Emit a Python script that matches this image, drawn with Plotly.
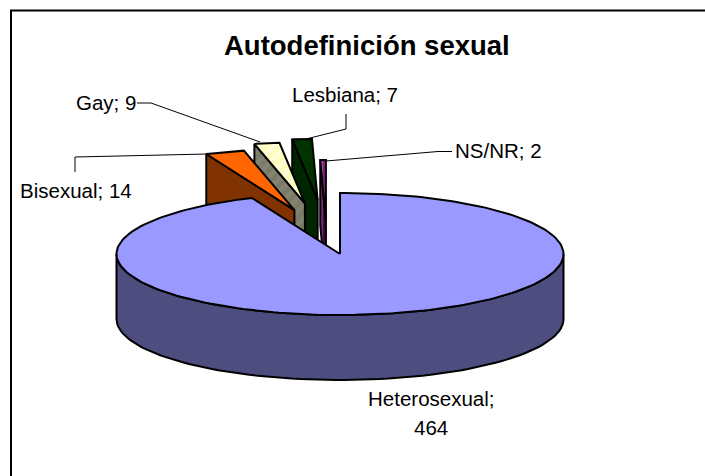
import numpy as np
import plotly.graph_objects as go

# data
categories = ["Heterosexual", "Bisexual", "Gay", "Lesbiana", "NS/NR"]
values = [464, 14, 9, 7, 2]

# pie geometry (pixels of the 705x476 canvas)
CX, CY, RX, RY, DEPTH = 340, 254, 223.5, 61, 65
# explosion of each slice, in units of the radii
EXPLODE = {"Heterosexual": (0, 0), "Bisexual": (-0.204, -0.72), "Gay": (-0.157, -0.83),
           "Lesbiana": (-0.1, -0.885), "NS/NR": (-0.063, -0.54)}

# face styles: top, side
STYLES = {
    "Heterosexual": (dict(fillcolor="#9999FF"), dict(fillcolor="#4D4D80")),
    "Bisexual": (dict(fillcolor="#FF6600"), dict(fillcolor="#803300")),
    "Gay": (dict(fillcolor="#FFFFCC", fillpattern=dict(shape="/", fgcolor="#FFFFFF", bgcolor="#FFFFBB", size=9, solidity=0.45)),
            dict(fillcolor="#808066", fillpattern=dict(shape="/", fgcolor="#8E8E80", bgcolor="#7A7A66", size=9, solidity=0.45))),
    "Lesbiana": (dict(fillcolor="#003300"), dict(fillcolor="#002600")),
    "NS/NR": (dict(fillcolor="#CC66CC", fillpattern=dict(shape="|", fgcolor="#E080E0", bgcolor="#802080", size=4, solidity=0.4)),
              dict(fillcolor="#660066", fillpattern=dict(shape="|", fgcolor="#AA77AA", bgcolor="#4D004D", size=4, solidity=0.4))),
}

total = sum(values)
fig = go.Figure()


def arc(a0, a1, dx=0.0, dy=0.0, n=80):
    t = np.radians(np.linspace(a0, a1, n))
    return CX + dx + RX * np.sin(t), CY + dy - RY * np.cos(t)


def poly(xs, ys, style, width=2):
    fig.add_trace(go.Scatter(x=np.r_[xs, xs[0]], y=np.r_[ys, ys[0]], mode="lines", fill="toself",
                             line=dict(color="black", width=width), hoverinfo="skip", showlegend=False, **style))


# slice angles, clockwise from 12 o'clock
angles = {}
a = 0.0
for c, v in zip(categories, values):
    angles[c] = (a, a + 360 * v / total)
    a += 360 * v / total

# back to front: the exploded small slices, then the big one
for c in ["NS/NR", "Lesbiana", "Gay", "Bisexual"]:
    a0, a1 = angles[c]
    ex, ey = EXPLODE[c][0] * RX, EXPLODE[c][1] * RY
    top, side = STYLES[c]
    ax, ay = arc(a0, a1, ex, ey, 12)
    tipx, tipy = CX + ex, CY + ey
    # radial wall along the start edge of the wedge
    poly(np.array([ax[0], tipx, tipx, ax[0]]), np.array([ay[0], tipy, tipy + DEPTH, ay[0] + DEPTH]), side)
    poly(np.r_[tipx, ax], np.r_[tipy, ay], top)

c = "Heterosexual"
a0, a1 = angles[c]
top, side = STYLES[c]
ux, uy = arc(90, 270)
lx, ly = arc(270, 90, dy=DEPTH)
poly(np.r_[ux, lx], np.r_[uy, ly], side)
ax, ay = arc(a0, a1, n=240)
poly(np.r_[CX, ax], np.r_[CY, ay], top)

# leader lines
LEADERS = [
    ([75, 75, 207], [172, 157, 154]),
    ([137, 151, 260], [103, 103, 142]),
    ([346, 346, 306], [114, 129, 139]),
    ([452, 438, 326], [151.5, 151.5, 161]),
]
for xs, ys in LEADERS:
    fig.add_trace(go.Scatter(x=xs, y=ys, mode="lines", line=dict(color="black", width=1),
                             hoverinfo="skip", showlegend=False))

FONT = "Liberation Sans"
LABELS = [
    (75.5, 190, f"{categories[1]}; {values[1]}"),
    (106, 102, f"{categories[2]}; {values[2]}"),
    (345, 94, f"{categories[3]}; {values[3]}"),
    (498.5, 150, f"{categories[4]}; {values[4]}"),
    (431, 398, f"{categories[0]};"),
    (431, 427, f"{values[0]}"),
]
anns = [dict(x=x, y=y, text=t, showarrow=False, xref="x", yref="y", xanchor="center", yanchor="middle",
             font=dict(family=FONT, size=20.5, color="black")) for x, y, t in LABELS]
anns.append(dict(x=367, y=45, text="<b>Autodefinición sexual</b>", showarrow=False, xref="x", yref="y",
                 xanchor="center", yanchor="middle", font=dict(family=FONT, size=27.5, color="black")))

fig.update_layout(
    width=705, height=476, margin=dict(l=0, r=0, t=0, b=0), autosize=False,
    paper_bgcolor="white", plot_bgcolor="white",
    xaxis=dict(range=[0, 705], visible=False, fixedrange=True),
    yaxis=dict(range=[476, 0], visible=False, fixedrange=True),
    annotations=anns,
    shapes=[dict(type="rect", xref="x", yref="y", x0=11, y0=10.5, x1=720, y1=490,
                 line=dict(color="black", width=2), fillcolor="rgba(0,0,0,0)", layer="below")],
)
fig.write_html("out.html", config=dict(displayModeBar=False),
               post_script="document.body.style.margin='0';document.body.style.overflow='hidden';")
